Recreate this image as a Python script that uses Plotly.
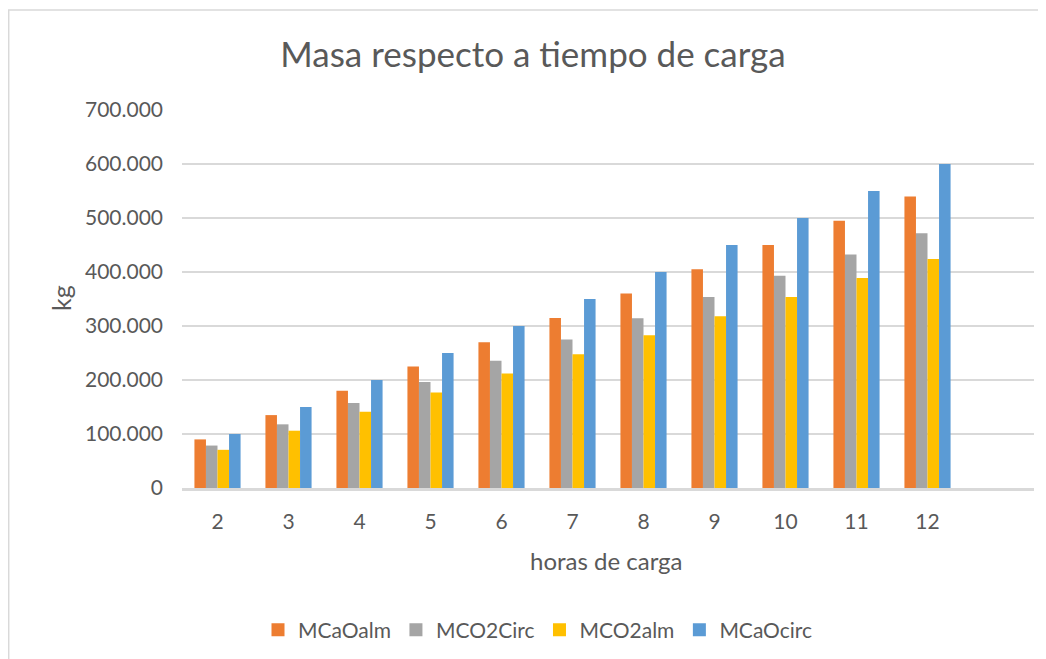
import plotly.graph_objects as go

horas = ["2", "3", "4", "5", "6", "7", "8", "9", "10", "11", "12"]
MCaOalm = [90000, 135000, 180000, 225000, 270000, 315000, 360000, 405000, 450000, 495000, 540000]
MCO2Circ = [78600, 117900, 157200, 196500, 235800, 275100, 314400, 353700, 393000, 432300, 471600]
MCO2alm = [70700, 106100, 141400, 176800, 212100, 247500, 282800, 318200, 353500, 388900, 424200]
MCaOcirc = [100000, 150000, 200000, 250000, 300000, 350000, 400000, 450000, 500000, 550000, 600000]

series = [
    ("MCaOalm", MCaOalm, "#ED7D31"),
    ("MCO2Circ", MCO2Circ, "#A5A5A5"),
    ("MCO2alm", MCO2alm, "#FFC000"),
    ("MCaOcirc", MCaOcirc, "#5B9BD5"),
]

cats = horas + [" "]
FONT = "Lato"
TXT = "#595959"

fig = go.Figure()
for name, vals, col in series:
    fig.add_trace(go.Bar(x=cats, y=vals + [None], name=name, marker_color=col,
                         marker_line_width=0, showlegend=False, legendgroup=name))
for name, vals, col in series:
    fig.add_trace(go.Scatter(x=[None], y=[None], mode="markers", name=name,
                             legendgroup=name,
                             marker=dict(symbol="square", size=13, color=col,
                                         line=dict(width=0))))

# figure sits at an 8px page offset (body margin)
W, H = 1038, 651
L, R, T, B = 174, 12, 102, 171
pw, ph = W - L - R, H - T - B

def px(x):
    return (x - L) / pw

def py(y):
    return (H - B - y) / ph

fig.add_shape(type="rect", xref="paper", yref="paper",
              x0=px(0.7), x1=px(1045), y0=py(660), y1=py(2),
              line=dict(color="#D9D9D9", width=1.5), layer="below")

fig.update_layout(
    width=W, height=H,
    margin=dict(l=L, r=R, t=T, b=B),
    paper_bgcolor="white", plot_bgcolor="white",
    separators=",.",
    barmode="group", bargap=0.35, bargroupgap=0,
    font=dict(family=FONT, color=TXT, size=20),
    title=dict(text="Masa respecto a tiempo de carga", x=525 / W, xref="container",
               xanchor="center", y=1 - 47 / H, yref="container", yanchor="middle",
               font=dict(size=35, color=TXT, family=FONT)),
    xaxis=dict(showline=True, linecolor="#D9D9D9", linewidth=2.5,
               ticks="", tickfont=dict(size=21), type="category",
               ticklabelstandoff=13, range=[-0.5, 11.5]),
    yaxis=dict(range=[0, 700000], dtick=100000, tickformat=",.0f",
               gridcolor="#D9D9D9", gridwidth=1.5, zeroline=False,
               showline=False, tickfont=dict(size=21), ticklabelstandoff=18),
    legend=dict(orientation="h", x=530 / W, xanchor="center", xref="container",
                y=(H - 622) / H, yanchor="middle", yref="container",
                font=dict(size=21), traceorder="normal", itemwidth=30),
    annotations=[
        dict(text="horas de carga", xref="paper", yref="paper",
             x=px(598), y=py(552), xanchor="center", yanchor="middle",
             showarrow=False, font=dict(size=24, color=TXT, family=FONT)),
        dict(text="kg", xref="paper", yref="paper",
             x=px(53), y=py(290), xanchor="center", yanchor="middle",
             textangle=-90, showarrow=False,
             font=dict(size=25, color=TXT, family=FONT)),
    ],
)

fig.write_html("out.html")
